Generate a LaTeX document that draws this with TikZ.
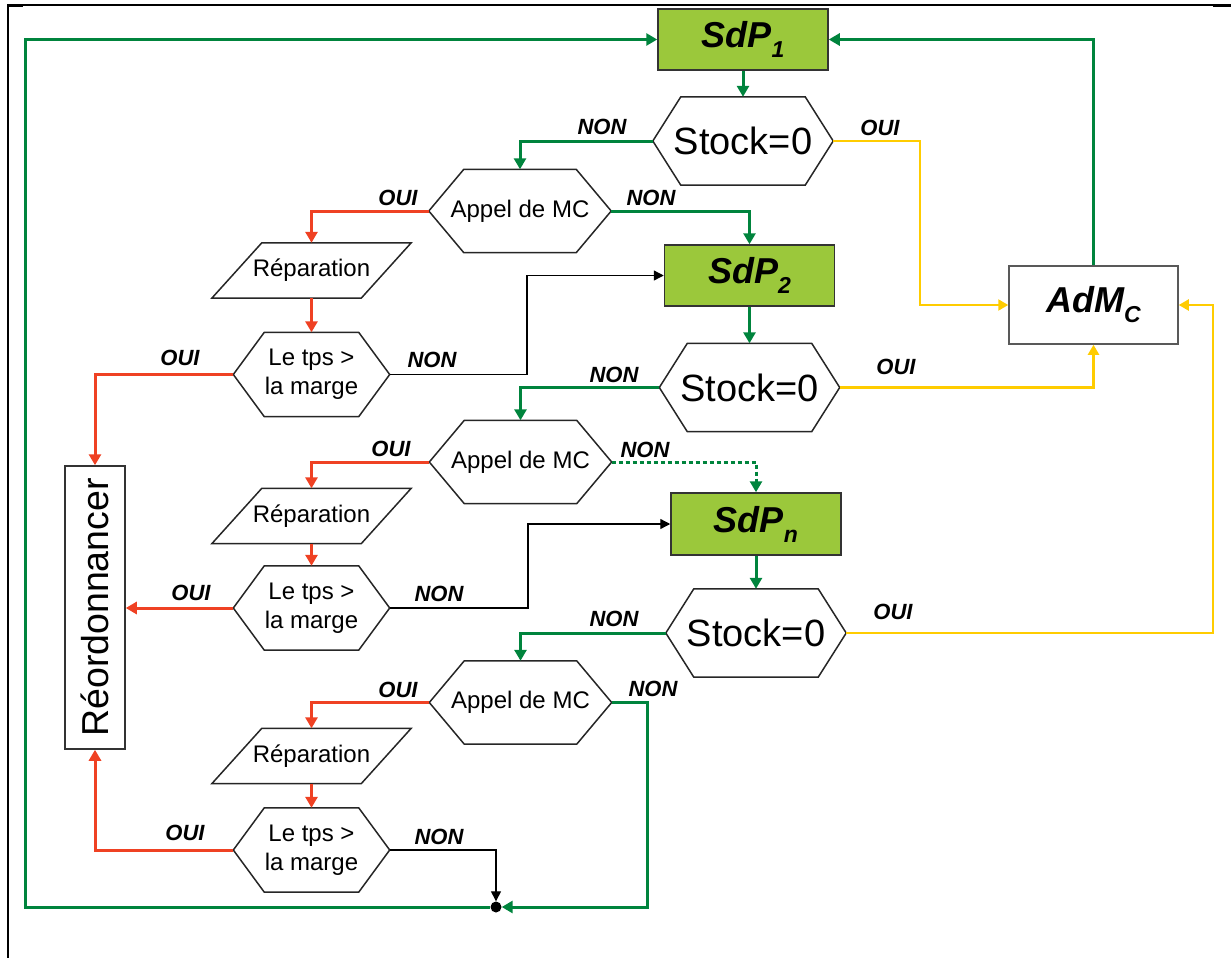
\documentclass[tikz,border=0pt]{standalone}
\usepackage{fontspec}
\setmainfont{Liberation Sans}
\usetikzlibrary{calc,arrows.meta}
\definecolor{gline}{HTML}{00843D}
\definecolor{rline}{HTML}{EF4123}
\definecolor{yline}{HTML}{FFCC00}
\definecolor{sdpfill}{HTML}{9BC83B}
\newcommand{\hexa}[2]{\draw[shapeline] (#1.west) -- ([xshift=#2]#1.north west) -- ([xshift=-#2]#1.north east) -- (#1.east) -- ([xshift=-#2]#1.south east) -- ([xshift=#2]#1.south west) -- cycle;}
\newcommand{\para}[1]{\draw[shapeline] ([xshift=50pt]#1.north west) -- (#1.north east) -- ([xshift=-50pt]#1.south east) -- (#1.south west) -- cycle;}
\newcommand{\sub}[1]{\raisebox{-0.28em}{\fontsize{23}{24}\selectfont #1}}
\begin{document}
\begin{tikzpicture}[x=1pt,y=-1pt,
  shapeline/.style={draw=black!85,line width=1.5pt,fill=white},
  stocknode/.style={inner sep=0pt,minimum width=180pt,minimum height=88pt},
  appelnode/.style={inner sep=0pt,minimum width=182pt,minimum height=83pt},
  tpsnode/.style={inner sep=0pt,minimum width=156pt,minimum height=84pt},
  repnode/.style={inner sep=0pt,minimum width=199pt,minimum height=55pt},
  sdpnode/.style={draw=black!80,line width=1.5pt,fill=sdpfill,inner sep=0pt,minimum width=170pt,minimum height=61pt,font=\bfseries\itshape\fontsize{36}{40}\selectfont},
  admnode/.style={draw=black!65,line width=1.5pt,fill=white,inner sep=0pt,minimum width=169pt,minimum height=78pt,font=\bfseries\itshape\fontsize{36}{40}\selectfont},
  reonode/.style={draw=black!80,line width=1.5pt,fill=white,inner sep=0pt,minimum width=60pt,minimum height=283pt,font=\fontsize{37.5}{40}\selectfont},
  lbl/.style={font=\bfseries\itshape\fontsize{22}{24}\selectfont},
  gpath/.style={draw=gline,line width=3pt,-{Triangle[length=11pt,width=12pt]}},
  rpath/.style={draw=rline,line width=3pt,-{Triangle[length=11pt,width=12pt]}},
  ypath/.style={draw=yline,line width=2.2pt,-{Triangle[length=10pt,width=11pt]}},
  kpath/.style={draw=black,line width=1.3pt,-{Triangle[length=10pt,width=10pt]}}
]
\useasboundingbox (0,0) rectangle (1231,958);
% frame
\draw[line width=1.5pt] (8,5) -- (1231,5);
\draw[line width=1.5pt] (8,5) -- (8,958);
\draw[line width=3pt] (7,5.5) -- (23,5.5);
\draw[line width=3pt] (1213,5.5) -- (1231,5.5);

% nodes
\node[sdpnode] (P1) at (743,39.5) {SdP\sub{1}};
\node[stocknode] (S1) at (743,141) {};
\node[appelnode] (A1) at (520,211) {};
\node[sdpnode] (P2) at (749.5,275.5) {SdP\sub{2}};
\node[repnode] (R1) at (311.5,270.5) {};
\node[tpsnode] (T1) at (311.5,374.5) {};
\node[admnode] (AD) at (1093.5,305) {AdM\sub{C}};
\node[stocknode] (S2) at (749.5,387.5) {};
\node[appelnode] (A2) at (520.5,462) {};
\node[sdpnode,minimum height=62pt] (P3) at (756,524) {SdP\sub{n}};
\node[repnode] (R2) at (311.5,516) {};
\node[tpsnode] (T2) at (311.5,608) {};
\node[reonode] (RE) at (95,607.5) {\rotatebox{90}{Réordonnancer}};
\node[stocknode] (S3) at (756,633) {};
\node[appelnode] (A3) at (520.5,702.5) {};
\node[repnode] (R3) at (311.5,756) {};
\node[tpsnode] (T3) at (311.5,850) {};
\node[circle,fill=black,inner sep=0pt,minimum size=11pt] (dot) at (496,907) {};

% outlines
\hexa{S1}{28pt} \hexa{S2}{28pt} \hexa{S3}{28pt}
\hexa{A1}{35pt} \hexa{A2}{35pt} \hexa{A3}{35pt}
\hexa{T1}{31pt} \hexa{T2}{31pt} \hexa{T3}{31pt}
\para{R1} \para{R2} \para{R3}

% texts on shapes
\foreach \n in {S1,S2,S3}{\node[font=\fontsize{38}{40}\selectfont] at (\n) {Stock=0};}
\foreach \n in {A1,A2,A3}{\node[font=\fontsize{24}{28}\selectfont] at (\n) {Appel de MC};}
\foreach \n in {R1,R2,R3}{\node[font=\fontsize{24}{28}\selectfont] at (\n) {Réparation};}
\foreach \n in {T1,T2,T3}{\node[align=center,font=\fontsize{24}{29}\selectfont] at (\n) {Le tps >\\la marge};}

% junction coordinates
\coordinate (j1) at (527,275.5);
\coordinate (j2) at (528,524);
\coordinate (y1) at (920,141);
\coordinate (y3) at (1213,633);
\coordinate (g3) at (647,907);
\coordinate (g0) at (25,907);

% green flow
\draw[gpath] (P1.south) -- (S1.north);
\draw[gpath] (S1.west) -| (A1.north);
\draw[gpath] (A1.east) -| (P2.north);
\draw[gpath] (P2.south) -- (S2.north);
\draw[gpath] (S2.west) -| (A2.north);
\draw[gpath,dash pattern=on 4pt off 3pt] (A2.east) -| (P3.north);
\draw[gpath] (P3.south) -- (S3.north);
\draw[gpath] (S3.west) -| (A3.north);
\draw[gpath] (A3.east) -| (g3) -- (dot.east);
\draw[gpath] (dot.west) -- (g0) |- (P1.west);
\draw[gpath] (AD.north) |- (P1.east);

% red flow
\draw[rpath] (A1.west) -| (R1.north);
\draw[rpath] (R1.south) -- (T1.north);
\draw[rpath] (T1.west) -| (RE.north);
\draw[rpath] (A2.west) -| (R2.north);
\draw[rpath] (R2.south) -- (T2.north);
\draw[rpath] (T2.west) -- (T2.west -| RE.east);
\draw[rpath] (A3.west) -| (R3.north);
\draw[rpath] (R3.south) -- (T3.north);
\draw[rpath] (T3.west) -| (RE.south);

% black flow
\draw[kpath] (T1.east) -| (j1) -- (P2.west);
\draw[kpath] (T2.east) -| (j2) -- (P3.west);
\draw[kpath] (T3.east) -| (dot.north);

% yellow flow
\draw[ypath] (S1.east) -- (y1) |- (AD.west);
\draw[ypath] (S2.east) -| (AD.south);
\draw[ypath] (S3.east) -- (y3) |- (AD.east);

% labels
\node[lbl] (l1) at (602,127) {NON};
\node[lbl] (l2) at (880,128) {OUI};
\node[lbl] (l3) at (398,198) {OUI};
\node[lbl] (l4) at (651,198) {NON};
\node[lbl] (l5) at (180,358) {OUI};
\node[lbl] (l6) at (432,360) {NON};
\node[lbl] (l7) at (614,375) {NON};
\node[lbl] (l8) at (896,367) {OUI};
\node[lbl] (l9) at (391,449) {OUI};
\node[lbl] (l10) at (645,450) {NON};
\node[lbl] (l11) at (191,593) {OUI};
\node[lbl] (l12) at (439,594) {NON};
\node[lbl] (l13) at (614,619) {NON};
\node[lbl] (l14) at (893,612) {OUI};
\node[lbl] (l15) at (398,690) {OUI};
\node[lbl] (l16) at (653,689) {NON};
\node[lbl] (l17) at (185,833) {OUI};
\node[lbl] (l18) at (439,837) {NON};
\end{tikzpicture}
\end{document}
